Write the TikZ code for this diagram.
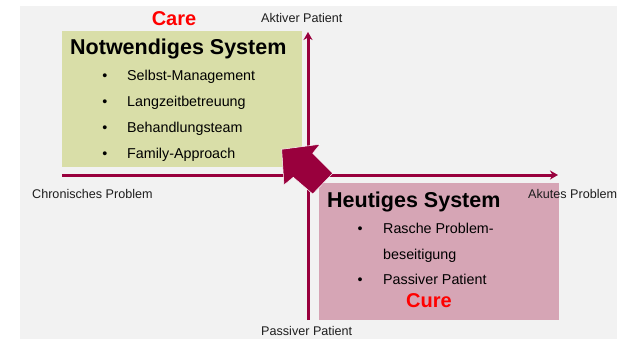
\documentclass[tikz,border=0pt]{standalone}
\usepackage{fontspec}
\setmainfont{Liberation Sans}
\usetikzlibrary{arrows.meta}
\definecolor{bggray}{RGB}{242,242,242}
\definecolor{axisred}{RGB}{153,0,61}
\definecolor{greenbox}{RGB}{217,222,168}
\definecolor{pinkbox}{RGB}{214,165,181}
\definecolor{labelgray}{RGB}{30,30,30}
\tikzset{
  axis/.style={draw=axisred, line width=3pt, -{Stealth[length=8pt,width=9pt,inset=2.5pt]}},
  title/.style={font=\fontsize{21.5}{24}\selectfont\bfseries, text=black, inner sep=0pt},
  item/.style={font=\fontsize{14.3}{16}\selectfont, text=black, inner sep=0pt},
  bul/.style={font=\fontsize{14.3}{16}\selectfont, text=black, inner sep=0pt},
  tag/.style={font=\fontsize{20}{22}\selectfont\bfseries, text=red, inner sep=0pt},
  axlabel/.style={font=\fontsize{12.6}{14}\selectfont, text=labelgray, inner sep=0pt},
}
\begin{document}
\begin{tikzpicture}[x=1pt,y=-1pt]
\useasboundingbox (0,0) rectangle (620,339);
\fill[white] (0,0) rectangle (620,339);
\fill[bggray] (20,6) rectangle (617,339);
% boxes
\fill[greenbox] (62,31) rectangle (302,167);
\fill[pinkbox] (319,183) rectangle (559,320);
% axes
\coordinate (hstart) at (62,175);
\coordinate (hend) at (558,175);
\coordinate (vstart) at (308,320);
\coordinate (vend) at (308,32);
\draw[axis] (hstart) -- (hend);
\draw[axis] (vstart) -- (vend);
% big arrow
\fill[axisred, draw=white, line width=0.5pt]
  (281.7,149.3) -- (320,144.3) -- (312.7,153.3) -- (332.7,173.3)
  -- (312.7,194) -- (293.3,177.3) -- (284,185) -- cycle;
% texts
\node[tag, anchor=base] (care) at (174,26) {Care};
\node[title, anchor=base west] (nsys) at (70,55) {Notwendiges System};
\node[bul, anchor=base] (b1) at (105,81) {•};
\node[item, anchor=base west] (i1) at (127,81) {Selbst-Management};
\node[bul, anchor=base] (b2) at (105,107) {•};
\node[item, anchor=base west] (i2) at (127,107) {Langzeitbetreuung};
\node[bul, anchor=base] (b3) at (105,132.5) {•};
\node[item, anchor=base west] (i3) at (127,132.5) {Behandlungsteam};
\node[bul, anchor=base] (b4) at (105,158) {•};
\node[item, anchor=base west] (i4) at (127,158) {Family-Approach};

\node[title, anchor=base west] (hsys) at (327,207.7) {Heutiges System};
\node[bul, anchor=base] (c1) at (360,233.3) {•};
\node[item, anchor=base west] (j1) at (383,233.3) {Rasche Problem-};
\node[item, anchor=base west] (j2) at (383,259) {beseitigung};
\node[bul, anchor=base] (c3) at (360,284.7) {•};
\node[item, anchor=base west] (j3) at (383,284.7) {Passiver Patient};
\node[tag, anchor=base] (cure) at (429,307.3) {Cure};

\node[axlabel, anchor=base west] (akt) at (261,22.7) {Aktiver Patient};
\node[axlabel, anchor=base west] (pas) at (261,335) {Passiver Patient};
\node[axlabel, anchor=base west] (chr) at (32,198.3) {Chronisches Problem};
\node[axlabel, anchor=base west] (aku) at (528,198.3) {Akutes Problem};
\end{tikzpicture}
\end{document}
